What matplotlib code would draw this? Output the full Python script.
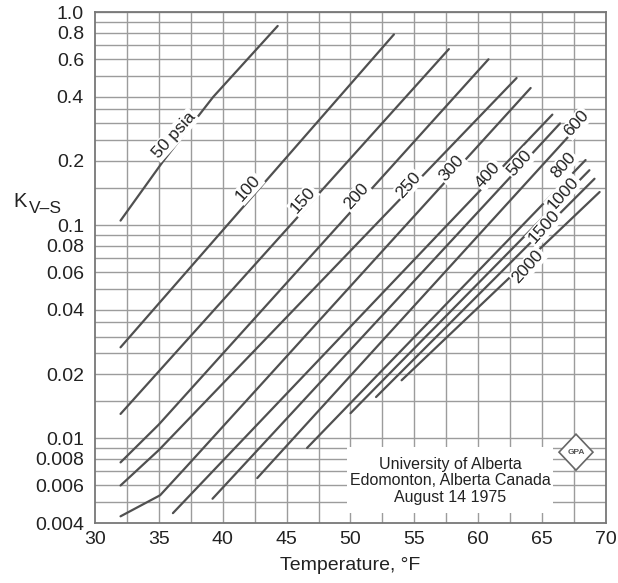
import numpy as np
import matplotlib
matplotlib.use("Agg")
import matplotlib.pyplot as plt
from matplotlib.patches import Rectangle, Polygon

plt.rcParams['font.family'] = ['Liberation Sans', 'DejaVu Sans']

# curve data: temperature (F) and K value
pressures = ['50', '100', '150', '200', '250', '300', '400', '500', '600', '800', '1000', '1500', '2000']
temps = [
    [32, 35.35, 39.26, 44.3],
    [32, 53.4],
    [32, 57.7],
    [32, 35.0, 60.8],
    [32, 35.0, 63.0],
    [32, 35.1, 37.2, 64.1],
    [36.1, 65.8],
    [39.2, 66.4],
    [42.7, 67.05],
    [46.6, 68.4],
    [50.0, 68.7],
    [52.0, 69.1],
    [54.0, 69.5],
]
kvals = [
    [0.105, 0.2, 0.4, 0.86],
    [0.0267, 0.785],
    [0.013, 0.67],
    [0.0077, 0.0116, 0.60],
    [0.006, 0.0088, 0.49],
    [0.0043, 0.0054, 0.0074, 0.44],
    [0.00445, 0.33],
    [0.0052, 0.30],
    [0.0065, 0.26],
    [0.009, 0.202],
    [0.0131, 0.181],
    [0.0156, 0.165],
    [0.0187, 0.143],
]
label_text = ['50 psia', '100', '150', '200', '250', '300', '400', '500', '600', '800', '1000', '1500', '2000']
label_x = [36.2, 42.0, 46.3, 50.48, 54.53, 57.92, 60.79, 63.27, 67.7, 66.66, 66.66, 65.2, 63.9]
label_y = [0.265, 0.149, 0.131, 0.136, 0.154, 0.185, 0.172, 0.195, 0.30, 0.191, 0.141, 0.098, 0.064]

x_ticks = [30, 35, 40, 45, 50, 55, 60, 65, 70]
y_ticks = [1.0, 0.8, 0.6, 0.4, 0.2, 0.1, 0.08, 0.06, 0.04, 0.02, 0.01, 0.008, 0.006, 0.004]
y_tick_labels = ['1.0', '0.8', '0.6', '0.4', '0.2', '0.1', '0.08', '0.06', '0.04', '0.02', '0.01', '0.008', '0.006', '0.004']

fig = plt.figure(figsize=(6.18, 5.83), dpi=100)
ax = fig.add_axes([0.1537, 0.1029, 0.8269, 0.8765])
ax.set_yscale('log')
ax.set_xlim(30, 70)
ax.set_ylim(0.004, 1.0)

grid_col = '#9c9c9c'
# horizontal grid: same pattern each decade
fracs = [1, 0.9, 0.8, 0.7, 0.6, 0.5, 0.4, 0.35, 0.3, 0.25, 0.2, 0.15]
for dec in [1.0, 0.1, 0.01]:
    for f in fracs:
        v = dec * f
        if v > 0.004:
            ax.axhline(v, color=grid_col, lw=1.0, zorder=1)
for xv in np.arange(32.5, 70, 2.5):
    ax.axvline(xv, color=grid_col, lw=1.0, zorder=1)

for t, k in zip(temps, kvals):
    ax.plot(t, k, color='#505050', lw=1.6, solid_capstyle='round', zorder=3)

for txt, lx, ly in zip(label_text, label_x, label_y):
    ax.text(lx, ly, txt, rotation=48, ha='center', va='center', fontsize=12.5,
            color='#222222', zorder=4,
            bbox=dict(boxstyle='square,pad=0.08', fc='white', ec='none'))

# white box with the source text
ax.add_patch(Rectangle((49.73, 0.00445), 16.12, 0.00465, fc='white', ec='none', zorder=2))
ax.text(57.8, 0.0063, 'University of Alberta\nEdomonton, Alberta Canada\nAugust 14 1975',
        ha='center', va='center', fontsize=11.5, linespacing=1.12, color='#222222', zorder=4)

# small diamond logo
lx0, cy, dx = 67.65, 0.0086, 1.33
ax.add_patch(Polygon([(lx0 - dx, cy), (lx0, cy * 1.215), (lx0 + dx, cy), (lx0, cy / 1.215)],
                     closed=True, fc='white', ec='#666666', lw=1.2, zorder=4))
ax.text(lx0, cy, 'GPA', ha='center', va='center', fontsize=6, fontweight='bold',
        color='#555555', zorder=5)

ax.set_xticks(x_ticks)
ax.set_xticklabels([str(v) for v in x_ticks])
ax.set_yticks(y_ticks)
ax.set_yticklabels(y_tick_labels)
ax.yaxis.set_minor_locator(matplotlib.ticker.NullLocator())
ax.tick_params(axis='both', length=0, labelsize=14, colors='#222222')
ax.tick_params(axis='x', pad=6)
ax.tick_params(axis='y', pad=8)
for s in ax.spines.values():
    s.set_color('#777777')
    s.set_linewidth(1.3)
    s.set_zorder(6)

ax.set_xlabel('Temperature, \u00b0F', fontsize=14, color='#222222', labelpad=6)
fig.text(0.021, 0.645, 'K', fontsize=14.5, color='#222222', va='baseline')
fig.text(0.047, 0.634, 'V\u2013S', fontsize=12.5, color='#222222', va='baseline')

fig.savefig('out.png', dpi=100)
